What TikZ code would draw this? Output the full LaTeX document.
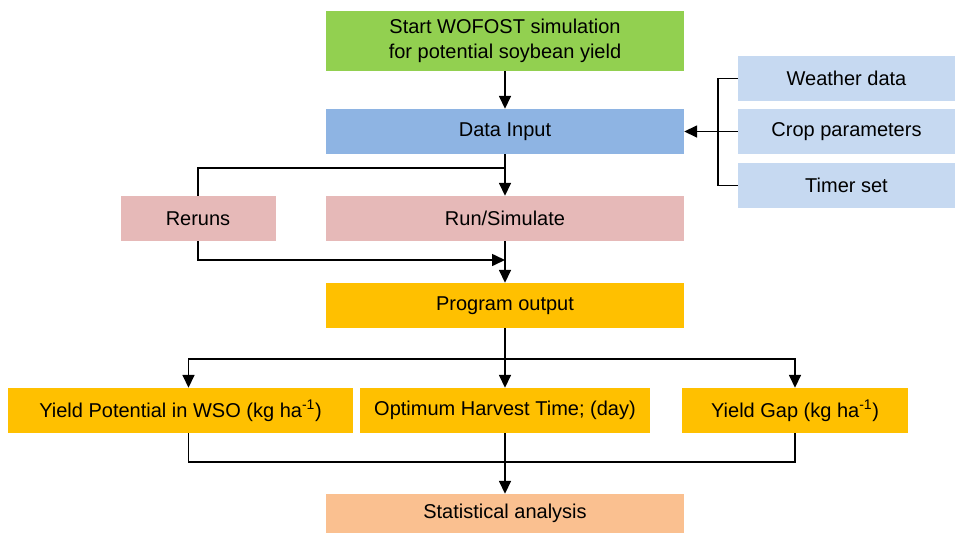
\documentclass[tikz,border=0pt]{standalone}
\usepackage{fontspec}
\setmainfont{Liberation Sans}
\usetikzlibrary{arrows.meta}

\definecolor{startgreen}{HTML}{92D050}
\definecolor{inputblue}{HTML}{8EB4E3}
\definecolor{databoxblue}{HTML}{C6D9F1}
\definecolor{runpink}{HTML}{E6B9B8}
\definecolor{outorange}{HTML}{FFC000}
\definecolor{statpeach}{HTML}{FAC090}

\begin{document}
\begin{tikzpicture}[
  x=1pt, y=-1pt,
  flow node/.style={inner sep=0pt, align=center, minimum height=45pt,
    font=\fontsize{20}{25.5}\selectfont},
  flow line/.style={line width=1.6pt},
  flow edge/.style={flow line, ->, >={Triangle[length=13pt,width=12pt]}}
]
\useasboundingbox (0,0) rectangle (955,533);
\node[flow node, fill=startgreen, minimum width=358pt, minimum height=60pt] (start) at (505, 41) {Start WOFOST simulation\\for potential soybean yield};
\node[flow node, fill=inputblue, minimum width=358pt] (input) at (505, 131.5) {Data Input};
\node[flow node, fill=databoxblue, minimum width=217pt] (weather) at (846.5, 78.5) {Weather data};
\node[flow node, fill=databoxblue, minimum width=217pt] (crop) at (846.5, 131.5) {Crop parameters};
\node[flow node, fill=databoxblue, minimum width=217pt] (timer) at (846.5, 185.5) {Timer set};
\node[flow node, fill=runpink, minimum width=155pt] (reruns) at (198, 218.5) {Reruns};
\node[flow node, fill=runpink, minimum width=358pt] (run) at (505, 218.5) {Run/Simulate};
\node[flow node, fill=outorange, minimum width=358pt] (output) at (505, 305.5) {Program output};
\node[flow node, fill=outorange, minimum width=345pt] (potential) at (180.5, 410.5) {Yield Potential in WSO (kg ha\textsuperscript{-1})};
\node[flow node, fill=outorange, minimum width=290pt] (optimum) at (505, 410.5) {Optimum Harvest Time; (day)};
\node[flow node, fill=outorange, minimum width=226pt] (gap) at (795, 410.5) {Yield Gap (kg ha\textsuperscript{-1})};
\node[flow node, fill=statpeach, minimum width=358pt, minimum height=39pt] (stat) at (505, 513.5) {Statistical analysis};

\coordinate (bk) at (718, 131.5);
\coordinate (lp) at (505, 168);
\coordinate (lq) at (505, 260);
\coordinate (br) at (505, 359);
\coordinate (jn) at (505, 462);

\draw[flow edge] (start) -- (input);
\draw[flow line] (weather.west) -| (bk) |- (timer.west);
\draw[flow edge] (crop) -- (input);
\draw[flow edge] (input) -- (run);
\draw[flow line] (reruns.north) |- (lp);
\draw[flow edge] (reruns.south) |- (lq);
\draw[flow edge] (run) -- (output);
\draw[flow edge] (output) -- (optimum);
\draw[flow edge] (br) -| ([xshift=8pt]potential.north);
\draw[flow edge] (br) -| (gap.north);
\draw[flow line] ([xshift=8pt]potential.south) |- (jn) -| (gap.south);
\draw[flow edge] (optimum) -- (stat);
\end{tikzpicture}
\end{document}
